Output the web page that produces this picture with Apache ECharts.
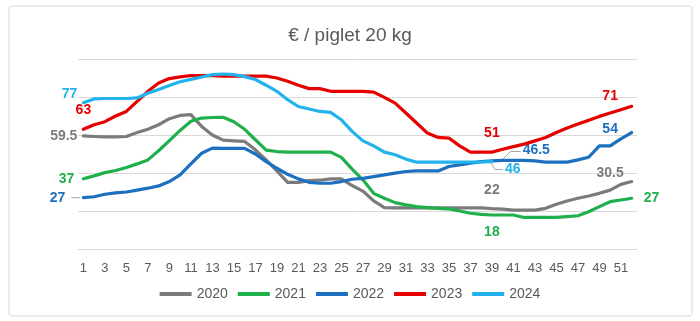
<!DOCTYPE html>
<html>
<head>
<meta charset="utf-8">
<script src="https://cdn.jsdelivr.net/npm/echarts@6/dist/echarts.min.js"></script>
<style>
html,body{margin:0;padding:0;background:#fff;}
#c{width:700px;height:321px;}
</style>
</head>
<body>
<div id="c"></div>
<script>
// ---- data ----
const weeks = Array.from({length: 52}, (_, i) => String(i + 1));
const seriesNames = ['2020', '2021', '2022', '2023', '2024'];
const v2020 = [59.5,59.2,59,59,59.2,61.3,63,65.4,68.6,70.3,70.7,64.5,60,57.3,56.9,56.6,52.2,46.9,41.1,35.1,35.1,36,36.2,36.9,36.9,33.4,30.5,25.3,21.8,21.6,21.6,21.6,21.6,21.6,21.6,21.6,21.6,21.6,21.2,21,20.5,20.5,20.5,21.4,23.5,25.3,26.7,27.9,29.3,31,34,35.5];
const v2021 = [37,38.5,40.2,41.3,42.9,44.8,46.9,51.7,57,62.4,67.2,68.9,69.2,69.3,67,63,57.5,52,51.3,51,51,51,51,51,48.2,42,36.4,29.3,26.7,24.4,23.2,22.3,21.8,21.4,21.1,20,18.8,18.2,17.9,17.9,17.9,16.6,16.6,16.6,16.6,17,17.5,19.6,22.3,24.9,25.8,26.7];
const v2022 = [27,27.5,28.8,29.5,30,31,32,33.2,35.5,39,44.8,50.4,53.1,53,53,53,50,46,42.5,39.3,36.9,35.1,34.6,34.6,35.5,36.7,37.2,38.1,39,39.9,40.8,41.1,41.1,41.1,43.4,44.3,45.2,46,46.4,46.6,46.6,46.6,46.4,45.7,45.7,45.7,46.9,48.3,54.3,54.3,58,61.3];
const v2023 = [63,65.4,67,70,72.4,77.7,83,87.4,89.7,90.6,91.3,91.3,91.3,91,91,91,91,91,90,88.3,86.2,84.4,84.4,83,83,83,83,82.6,79.8,76.8,71.6,66.3,61,58.7,58.4,54.3,51,51,51,52.5,53.9,55.2,56.9,58.7,61.3,63.7,65.8,67.7,69.8,71.6,73.3,75.1];
const v2024 = [77,79,79.2,79.2,79.2,79.5,82,84,86,88,89.3,90.5,91.8,92.1,91.8,90.7,89.2,86.2,83,78.6,75,73.7,72.4,71.9,68,61.9,56.9,54.3,51,49.6,47.3,45.7,45.7,45.7,45.7,45.7,45.7,45.8,46];
// value labels shown on the chart: [week, text]
const labels2020 = [[1,'59.5'],[39,'22'],[50,'30.5']];
const labels2021 = [[1,'37'],[39,'18'],[52,'27']];
const labels2022 = [[1,'27'],[40,'46.5'],[50,'54']];
const labels2023 = [[1,'63'],[39,'51'],[50,'71']];
const labels2024 = [[1,'77'],[39,'46']];

const colors = ['#7b7b7b', '#1fb04c', '#1d6fc0', '#e60000', '#22b2ec'];
const FONT = 'Liberation Sans';

// label placement styles keyed by "series-week"
const labelStyle = {
  '2020-1':  {position: 'left', distance: 6},
  '2020-39': {position: 'top', distance: 12},
  '2020-50': {position: 'top', distance: 10},
  '2021-1':  {position: 'left', distance: 9},
  '2021-39': {position: 'bottom', distance: 10},
  '2021-52': {position: 'right', distance: 12},
  '2022-1':  {position: 'left', distance: 18},
  '2022-40': {position: 'right', distance: 0, offset: [20, -10]},
  '2022-50': {position: 'top', distance: 10},
  '2023-1':  {position: 'top', distance: 12},
  '2023-39': {position: 'top', distance: 12},
  '2023-50': {position: 'top', distance: 10},
  '2024-1':  {position: 'left', distance: 6, offset: [0, -9]},
  '2024-39': {position: 'right', distance: 0, offset: [13, 8]}
};

function buildData(name, values, labels, color) {
  return values.map((v, i) => {
    const hit = labels.find(l => l[0] === i + 1);
    if (!hit) return v;
    const st = labelStyle[name + '-' + hit[0]] || {position: 'top'};
    return {
      value: v,
      label: {
        show: true,
        formatter: hit[1],
        position: st.position,
        distance: st.distance,
        offset: st.offset || [0, 0],
        color: color,
        fontWeight: 'bold',
        fontSize: 14,
        fontFamily: FONT
      }
    };
  });
}

const allValues = [v2020, v2021, v2022, v2023, v2024];
const allLabels = [labels2020, labels2021, labels2022, labels2023, labels2024];

const chart = echarts.init(document.getElementById('c'), null, {renderer: 'canvas'});
const series = seriesNames.map((n, k) => ({
  name: n,
  type: 'line',
  data: buildData(n, allValues[k], allLabels[k], colors[k]),
  symbol: 'circle',
  symbolSize: 0,
  showSymbol: true,
  showAllSymbol: true,
  lineStyle: {width: 3.2, color: colors[k], join: 'round', cap: 'round'},
  itemStyle: {color: colors[k]},
  label: {show: false},
  emphasis: {disabled: true},
  animation: false,
  z: 2 + k
}));

chart.setOption({
  backgroundColor: '#ffffff',
  animation: false,
  color: colors,
  title: {
    text: '€ / piglet 20 kg',
    left: 'center',
    top: 21,
    textStyle: {color: '#595959', fontSize: 19, fontWeight: 'normal', fontFamily: FONT}
  },
  legend: {
    data: seriesNames,
    bottom: 15,
    left: 'center',
    icon: 'rect',
    itemWidth: 32,
    itemHeight: 4,
    itemGap: 10,
    textStyle: {color: '#595959', fontSize: 14, fontFamily: FONT}
  },
  grid: {left: 78, right: 63, top: 59, bottom: 72, containLabel: false},
  xAxis: {
    type: 'category',
    data: weeks,
    boundaryGap: true,
    axisLine: {show: true, lineStyle: {color: '#d9d9d9'}},
    axisTick: {show: false},
    axisLabel: {interval: 1, color: '#595959', fontSize: 13, fontFamily: FONT, margin: 13}
  },
  yAxis: {
    type: 'value',
    min: 0, max: 100, interval: 20,
    axisLine: {show: false},
    axisTick: {show: false},
    axisLabel: {show: false},
    splitLine: {lineStyle: {color: '#d9d9d9', width: 1}}
  },
  series: series
});

// leader lines (decorative) attached to labelled points
function leader(seriesIdx, week, pts) {
  const p = chart.convertToPixel({xAxisIndex: 0, yAxisIndex: 0}, [week - 1, allValues[seriesIdx][week - 1]]);
  return {
    type: 'polyline',
    shape: {points: pts.map(d => [p[0] + d[0], p[1] + d[1]])},
    style: {stroke: '#a6a6a6', lineWidth: 1, fill: 'none'},
    silent: true, z: 1
  };
}
chart.setOption({
  graphic: [
    {type: 'rect', shape: {x: 9, y: 6, width: 683, height: 310, r: 3},
     style: {fill: 'none', stroke: '#d9d9d9', lineWidth: 1}, silent: true, z: -10},
    leader(2, 1, [[-3, 0], [-12, 0]]),
    leader(2, 40, [[0, -1], [8, -9], [18, -9]]),
    leader(4, 39, [[-1, 1], [3, 8], [11, 8]])
  ]
});
</script>
</body>
</html>
